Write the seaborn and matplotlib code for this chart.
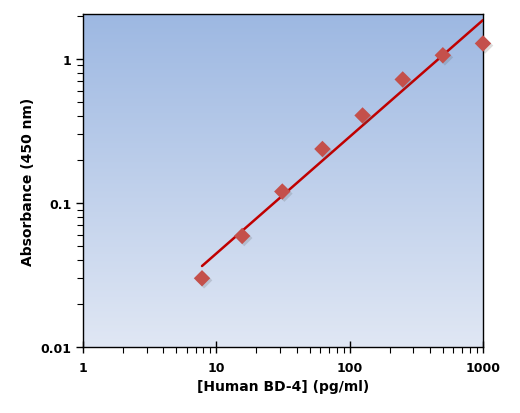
import numpy as np
import pandas as pd
import matplotlib
matplotlib.use('Agg')
import matplotlib.pyplot as plt
import matplotlib.patheffects as pe
from matplotlib.colors import LinearSegmentedColormap
from matplotlib.ticker import LogLocator, FixedLocator, FixedFormatter, NullFormatter
import seaborn as sns

# standard points
conc = [7.8125, 15.625, 31.25, 62.5, 125, 250, 500, 1000]
absorb = [0.030, 0.059, 0.120, 0.237, 0.405, 0.72, 1.06, 1.28]

# fitted line end points
fit_x = [7.8125, 1000]
fit_y = [0.0365, 1.86]

x_ticks = [1, 10, 100, 1000]
x_labels = ['1', '10', '100', '1000']
y_ticks = [0.01, 0.1, 1]
y_labels = ['0.01', '0.1', '1']

data = pd.DataFrame({'conc': conc, 'absorb': absorb})
fit = pd.DataFrame({'x': fit_x, 'y': fit_y})

sns.set_style('ticks')
plt.rcParams['font.family'] = ['DejaVu Sans']
plt.rcParams['text.color'] = 'black'
plt.rcParams['axes.labelcolor'] = 'black'
plt.rcParams['xtick.color'] = 'black'
plt.rcParams['ytick.color'] = 'black'

fig = plt.figure(figsize=(5.2, 4.14), dpi=100)
ax = fig.add_axes([0.1596, 0.1594, 0.7692, 0.8044])

# gradient background, blue at top to pale at bottom
grad = np.linspace(0, 1, 256).reshape(-1, 1)
cmap = LinearSegmentedColormap.from_list('bg', ['#e0e7f4', '#9db8e2'])
ax.imshow(grad, cmap=cmap, aspect='auto', extent=[0, 1, 0, 1],
          transform=ax.transAxes, origin='lower', zorder=0)

ax.set_xscale('log')
ax.set_yscale('log')

sns.lineplot(data=fit, x='x', y='y', ax=ax, color='#c00000', lw=1.8, zorder=3)
sns.scatterplot(data=data, x='conc', y='absorb', ax=ax, marker='D', s=70,
                color='#c4504b', edgecolor='none', zorder=4, clip_on=False,
                path_effects=[pe.SimplePatchShadow(offset=(1.5, -1.5),
                                                   shadow_rgbFace='#555555',
                                                   alpha=0.2),
                              pe.Normal()])

ax.set_xlim(1, 1000)
ax.set_ylim(0.01, 2.05)

ax.xaxis.set_major_locator(FixedLocator(x_ticks))
ax.xaxis.set_major_formatter(FixedFormatter(x_labels))
ax.yaxis.set_major_locator(FixedLocator(y_ticks))
ax.yaxis.set_major_formatter(FixedFormatter(y_labels))
ax.xaxis.set_minor_locator(LogLocator(base=10, subs=np.arange(2, 10)))
ax.yaxis.set_minor_locator(LogLocator(base=10, subs=np.arange(2, 10)))
ax.xaxis.set_minor_formatter(NullFormatter())
ax.yaxis.set_minor_formatter(NullFormatter())

ax.tick_params(axis='x', which='major', direction='inout', length=8, width=1, pad=6)
ax.tick_params(axis='y', which='major', direction='out', length=5, width=1)
ax.tick_params(which='minor', direction='out', length=4, width=0.8)
for lab in ax.get_xticklabels() + ax.get_yticklabels():
    lab.set_fontweight('bold')
    lab.set_fontsize(9)

for sp in ax.spines.values():
    sp.set_visible(True)
    sp.set_linewidth(1)
    sp.set_color('black')

ax.set_xlabel('[Human BD-4] (pg/ml)', fontsize=10, fontweight='bold', labelpad=4)
ax.set_ylabel('Absorbance (450 nm)', fontsize=10, fontweight='bold', labelpad=4)
ax.grid(False)

fig.savefig('out.png', dpi=100)
